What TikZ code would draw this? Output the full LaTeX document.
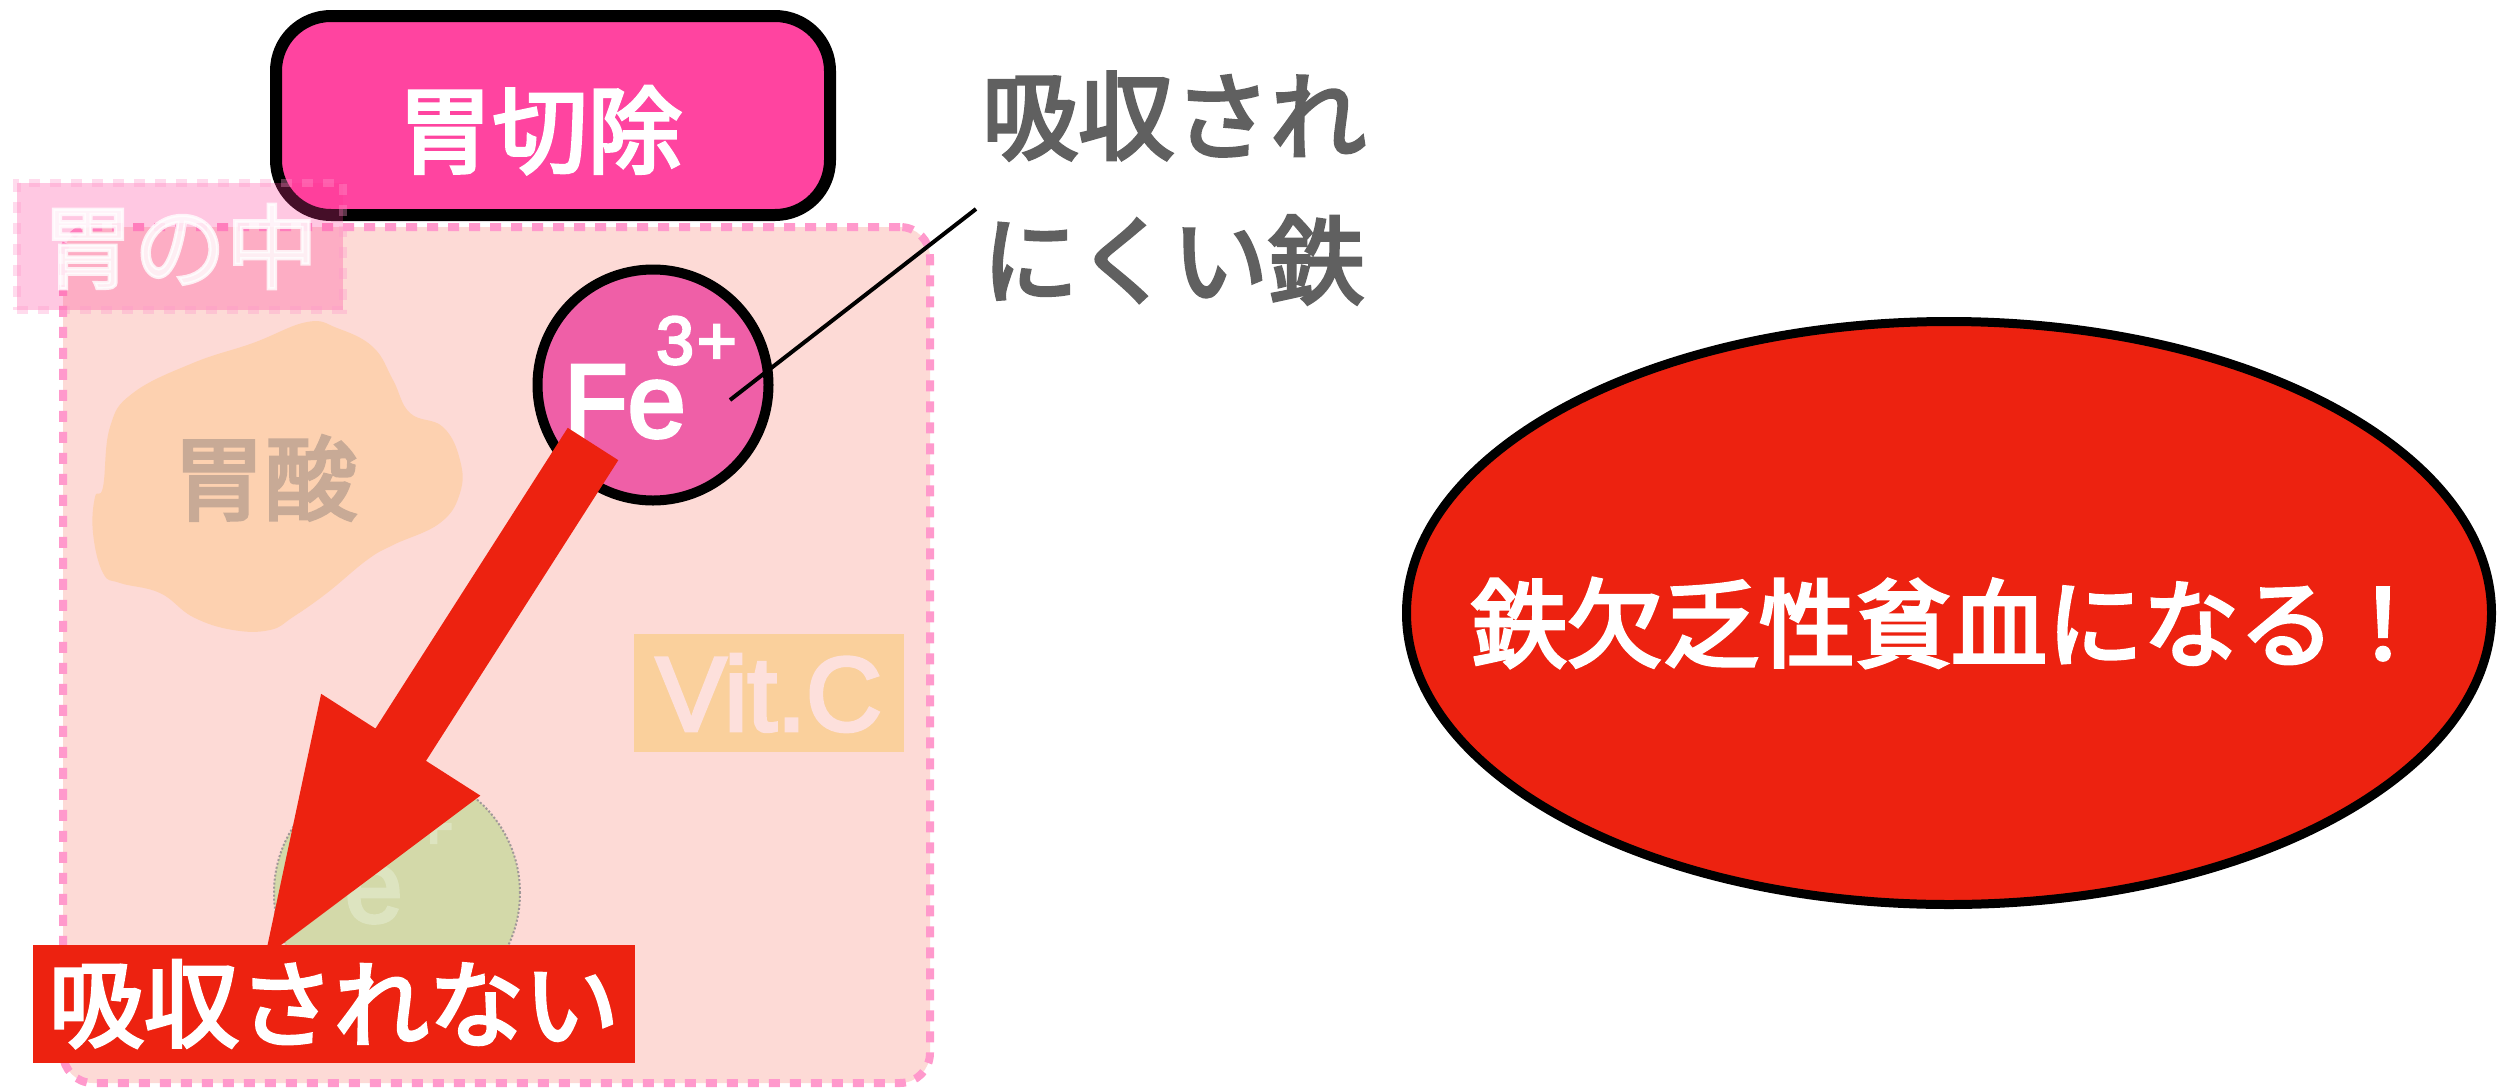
\documentclass[tikz,border=0pt]{standalone}
\usepackage{fontspec}
\setmainfont{Liberation Sans}
\newfontfamily\jp{Noto Sans CJK JP}[FakeBold=3.5]
\newfontfamily\helv{Liberation Sans}[FakeBold=3.5]
\usetikzlibrary{shapes.geometric,calc}
\definecolor{cutpink}{HTML}{FF44A0}
\definecolor{fepink}{HTML}{EF5FA7}
\definecolor{stomfill}{HTML}{FDDAD6}
\definecolor{stomdash}{HTML}{FF99CC}
\definecolor{labfill}{HTML}{FF3494}
\definecolor{acid}{HTML}{FDD1B0}
\definecolor{acidtxt}{HTML}{C8AA96}
\definecolor{vitfill}{HTML}{FAD09C}
\definecolor{vittxt}{HTML}{FDE0DC}
\definecolor{greenfe}{HTML}{D3D9A9}
\definecolor{greentxt}{HTML}{DDE4C0}
\definecolor{greenline}{HTML}{A09898}
\definecolor{alarm}{HTML}{ED2210}
\definecolor{graytxt}{HTML}{606060}
\begin{document}
\begin{tikzpicture}[x=1pt,y=-1pt,
  jpfont/.style={font=\jp\fontsize{#1}{#1}\selectfont},
  container/.style={draw=stomdash, line width=8pt, dash pattern=on 11pt off 10pt,
    fill=stomfill, rounded corners=30pt, inner sep=0pt},
  insidelabel/.style={draw=stomdash, draw opacity=0.35, fill=labfill, fill opacity=0.27,
    text=white, text opacity=0.8, line width=8pt, dash pattern=on 11pt off 10pt,
    inner sep=0pt, jpfont=92pt},
  cutbox/.style={draw=black, line width=12pt, fill=cutpink, rounded corners=55pt, inner sep=0pt},
  ion/.style={circle, draw=black, line width=10pt, fill=fepink, inner sep=0pt},
  weakion/.style={circle, draw=greenline, dotted, line width=2pt, fill=greenfe, inner sep=0pt},
  redbox/.style={fill=alarm, inner sep=0pt, text=white, jpfont=95pt},
  bigoval/.style={ellipse, draw=black, line width=9pt, fill=alarm, inner sep=0pt},
  latin/.style={inner sep=0pt, font=\helv\fontsize{#1}{#1}\selectfont},
  leader/.style={draw=black, line width=4pt}
]
\useasboundingbox (0,0) rectangle (2509,1090);

% stomach container
\node[container, minimum width=867pt, minimum height=856pt] (stomach) at (496.5,655) {};

% gastric acid blob
\fill[acid] plot[smooth cycle, tension=0.7] coordinates {
 (307,322) (337,328) (373,347) (393,380) (410,413) (443,427) (460,460) (460,493)
 (440,523) (393,545) (367,560) (327,593) (293,617) (270,630) (233,630) (193,617)
 (160,593) (120,583) (103,573) (93,533) (95,497) (103,487) (110,427) (133,393)
 (193,363) (253,343)};
\node[jpfont=92pt, text=acidtxt, inner sep=0pt] (acidtxt) at (265,478) {胃酸};

% vitamin C
\node[fill=vitfill, minimum width=270pt, minimum height=118pt, inner sep=0pt,
  text=vittxt, latin=105pt] (vitc) at (769,693) {Vit.C};

% faded Fe2+
\node[weakion, minimum size=246pt] (fe2) at (397,893) {};
\node[latin=104pt, text=greentxt, anchor=base west] (fe2txt) at (281,922) {Fe};
\node[latin=68pt, text=greentxt, anchor=base west] (fe2sup) at (373,849) {2\kern3pt+};

% gastrectomy box
\node[cutbox, minimum width=554pt, minimum height=199pt] (cut) at (553,115.5) {};
\node[jpfont=95pt, text=white, inner sep=0pt] (cuttxt) at (540,130) {胃切除};

% "in the stomach" label
\node[insidelabel, minimum width=326pt, minimum height=127pt] (inlabel) at (180,246.5) {胃の中};

% Fe3+
\node[ion, minimum size=231pt] (fe3) at (653,385) {};
\node[latin=104pt, text=white, anchor=base west] (fe3txt) at (564,437) {Fe};
\node[latin=68pt, text=white, anchor=base west] (fe3sup) at (656,364) {3\kern3pt+};

% leader line to annotation
\coordinate (ldA) at (730,400);
\coordinate (ldB) at (976,209);
\draw[leader] (ldA) -- (ldB);
\node[text=graytxt, anchor=west, align=left, inner sep=0pt,
  font=\jp\fontsize{96pt}{144pt}\selectfont] (hardtxt) at (982,188) {吸収され\\にくい鉄};

% big red arrow
\coordinate (aS) at (593,444);
\coordinate (aT) at (265,957);
\coordinate (aB) at ($(aT)!252pt!(aS)$);
\fill[alarm] ($(aS)!30pt!90:(aT)$) -- ($(aB)!30pt!90:(aT)$) -- ($(aB)!94.5pt!90:(aT)$)
  -- (aT) -- ($(aB)!94.5pt!-90:(aT)$) -- ($(aB)!30pt!-90:(aT)$) -- ($(aS)!30pt!-90:(aT)$) -- cycle;

% not absorbed
\node[redbox, minimum width=602pt, minimum height=118pt] (notabs) at (334,1004) {吸収されない};

% anemia
\node[bigoval, minimum width=1085pt, minimum height=583pt] (anemia) at (1949,613) {};
\node[jpfont=96pt, text=white, inner sep=0pt] (anemiatxt) at (1951,623) {鉄欠乏性貧血になる！};
\end{tikzpicture}
\end{document}
